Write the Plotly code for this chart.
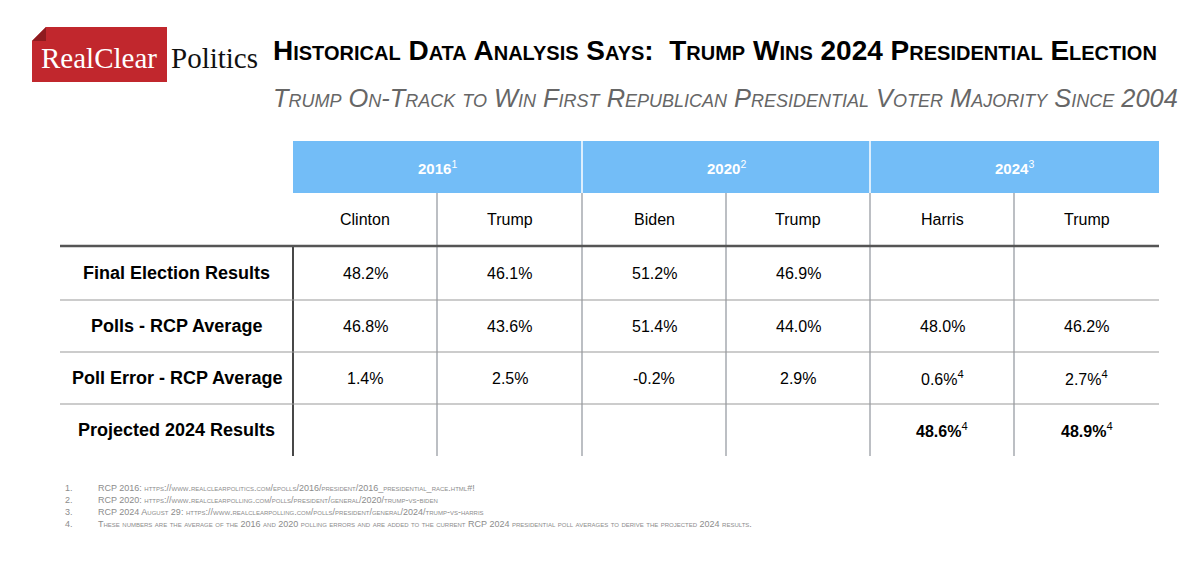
import plotly.graph_objects as go

# ---------------- data ----------------
years = ["2016", "2020", "2024"]
year_notes = ["1", "2", "3"]
candidates = ["Clinton", "Trump", "Biden", "Trump", "Harris", "Trump"]
row_labels = ["Final Election Results", "Polls - RCP Average",
              "Poll Error - RCP Average", "Projected 2024 Results"]
final_results = [48.2, 46.1, 51.2, 46.9, None, None]
rcp_average = [46.8, 43.6, 51.4, 44.0, 48.0, 46.2]
poll_error = [1.4, 2.5, -0.2, 2.9, 0.6, 2.7]
projected_2024 = [None, None, None, None, 48.6, 48.9]
poll_error_notes = ["", "", "", "", "4", "4"]
projected_notes = ["", "", "", "", "4", "4"]

title_text = "Historical Data Analysis Says:\u00a0 Trump Wins 2024 Presidential Election"
subtitle_text = "Trump On-Track to Win First Republican Presidential Voter Majority Since 2004"
footnote_nums = ["1.", "2.", "3.", "4."]
footnotes = [
    "RCP 2016: https://www.realclearpolitics.com/epolls/2016/president/2016_presidential_race.html#!",
    "RCP 2020: https://www.realclearpolling.com/polls/president/general/2020/trump-vs-biden",
    "RCP 2024 August 29: https://www.realclearpolling.com/polls/president/general/2024/trump-vs-harris",
    "These numbers are the average of the 2016 and 2020 polling errors and are added to the current RCP 2024 presidential poll averages to derive the projected 2024 results.",
]

# ---------------- layout constants ----------------
W, H = 1200, 578
PAGE_OFFSET = 8          # the page body margin the figure sits inside
SANS = "Liberation Sans"
SERIF = "Liberation Serif"
BLUE = "#73BDF7"
col_edges = [293, 437, 582, 726, 870, 1014, 1159]
label_left = 60
header_top, header_bot, sub_bot = 141, 193, 246
row_edges = [246, 300, 352, 404, 456]

fig = go.Figure()
fig.add_trace(go.Scatter(x=[PAGE_OFFSET, W], y=[PAGE_OFFSET, H], mode="markers",
                         marker=dict(opacity=0), hoverinfo="skip", showlegend=False))

shapes = []
annots = []

def line(x0, y0, x1, y1, color, width):
    shapes.append(dict(type="line", xref="x", yref="y", x0=x0, y0=y0, x1=x1, y1=y1,
                       line=dict(color=color, width=width), layer="above"))

def text(x, y, s, size, color="#000", family=SANS, xanchor="center", yanchor="middle", **fkw):
    annots.append(dict(x=x, y=y, xref="x", yref="y", text=s, showarrow=False,
                       xanchor=xanchor, yanchor=yanchor,
                       font=dict(size=size, color=color, family=family, **fkw)))

# ---- logo ----
shapes.append(dict(type="path", xref="x", yref="y",
                   path="M 46 27 L 167 27 L 167 82 L 32 82 L 32 41 Z",
                   fillcolor="#C1272D", line=dict(width=0), layer="below"))
shapes.append(dict(type="path", xref="x", yref="y",
                   path="M 32 41 L 46 27 L 46 41 Z",
                   fillcolor="#8E1B1F", line=dict(width=0), layer="below"))
text(99, 58, "RealClear", 29, "#FFFFFF", SERIF)
text(169, 58, "Politics", 29, "#111111", SERIF, xanchor="left")

# ---- titles ----
text(271, 50, "<b>" + title_text + "</b>", 28.0, "#000000", SANS, xanchor="left",
     variant="small-caps")
text(271, 98, "<i>" + subtitle_text + "</i>", 25.4, "#666666", SANS, xanchor="left",
     variant="small-caps")

# ---- header band ----
shapes.append(dict(type="rect", xref="x", yref="y", x0=col_edges[0], x1=col_edges[-1],
                   y0=header_top, y1=header_bot, fillcolor=BLUE, line=dict(width=0),
                   layer="below"))
for g, (yr, note) in enumerate(zip(years, year_notes)):
    xc = (col_edges[2 * g] + col_edges[2 * g + 2]) / 2
    text(xc, (header_top + header_bot) / 2, f"<b>{yr}</b><sup>{note}</sup>", 15, "#FFFFFF")
for g in (1, 2):
    line(col_edges[2 * g], header_top, col_edges[2 * g], header_bot, "#FFFFFF", 1.5)

# ---- grid ----
GREY = "#8F949C"
for i in range(1, len(col_edges) - 1):
    line(col_edges[i], header_bot, col_edges[i], row_edges[-1], GREY, 1.2)
line(col_edges[0], sub_bot, col_edges[0], row_edges[-1], "#1A1A1A", 1.6)
line(label_left, sub_bot, col_edges[-1], sub_bot, "#555555", 2.5)
for y in row_edges[1:-1]:
    line(label_left, y, col_edges[-1], y, "#9A9A9A", 1.2)

# ---- candidate sub-header ----
for i, c in enumerate(candidates):
    xc = (col_edges[i] + col_edges[i + 1]) / 2
    text(xc, (header_bot + sub_bot) / 2, c, 16)

# ---- rows ----
rows = [
    (final_results, [""] * 6, False),
    (rcp_average, [""] * 6, False),
    (poll_error, poll_error_notes, False),
    (projected_2024, projected_notes, True),
]
label_cx = (label_left + col_edges[0]) / 2
for r, (label, (vals, notes, bold)) in enumerate(zip(row_labels, rows)):
    yc = (row_edges[r] + row_edges[r + 1]) / 2
    text(label_cx, yc, f"<b>{label}</b>", 18)
    for i, v in enumerate(vals):
        if v is None:
            continue
        xc = (col_edges[i] + col_edges[i + 1]) / 2
        s = f"{v:.1f}%"
        if bold:
            s = f"<b>{s}</b>"
        if notes[i]:
            s += f"<sup>{notes[i]}</sup>"
        text(xc, yc, s, 16)

# ---- footnotes ----
for k, (num, fn) in enumerate(zip(footnote_nums, footnotes)):
    y = 488 + 12 * k
    text(63, y, num, 9, "#8C8C8C", xanchor="left")
    text(96, y, fn, 9, "#8C8C8C", xanchor="left", variant="small-caps")

fig.update_layout(
    width=W, height=H,
    margin=dict(l=0, r=0, t=0, b=0),
    paper_bgcolor="#FFFFFF", plot_bgcolor="#FFFFFF",
    xaxis=dict(range=[PAGE_OFFSET, W + PAGE_OFFSET], visible=False, fixedrange=True),
    yaxis=dict(range=[H + PAGE_OFFSET, PAGE_OFFSET], visible=False, fixedrange=True),
    shapes=shapes, annotations=annots, showlegend=False,
)
fig.write_html("out.html")
